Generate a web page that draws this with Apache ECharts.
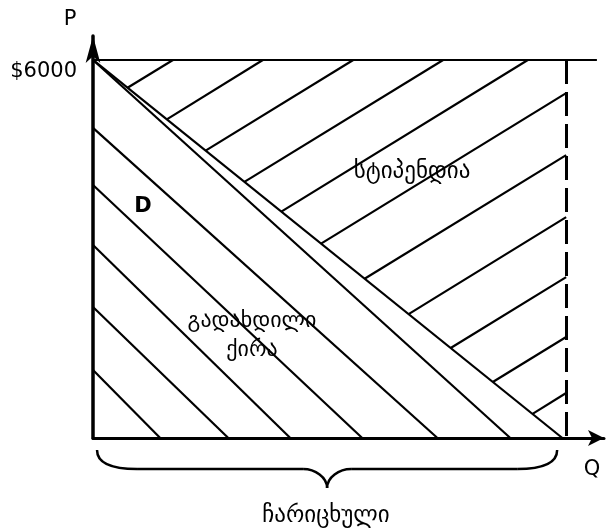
<!DOCTYPE html>
<html>
<head>
<meta charset="utf-8">
<script src="https://cdn.jsdelivr.net/npm/echarts@6/dist/echarts.min.js"></script>
<style>
  html, body { margin: 0; padding: 0; background: #fff; }
  #main { width: 614px; height: 528px; }
</style>
</head>
<body>
<div id="main"></div>
<script>
// Q in arbitrary units (capacity = 100), P in dollars
var topPrice = 6000;
var capacityQ = 100;
var topLineEndQ = 106.5;
var demandLine = [[0, 6000], [99.2, 0]];
var innerLine = [[0, 6000], [88.2, 0]];

// hatching under demand (paid rent): start P on the P axis, end Q on the Q axis
var rentStartP = [1079, 2079, 3063, 4016, 4921];
var rentEndQ = [14.2, 28.6, 41.7, 56.9, 72.8];

// hatching above demand (stipend)
var stipendFromTop = [[16.9, 6000, 7.3, 5558], [35.9, 6000, 15.6, 5057], [55.0, 6000, 23.8, 4561],
                      [74.0, 6000, 32.0, 4065], [91.9, 6000, 39.8, 3593]];
var stipendFromCap = [[100, 5473, 48.2, 3085], [100, 4490, 57.4, 2528], [100, 3506, 66.7, 1966],
                      [100, 2554, 75.6, 1428], [100, 1602, 84.5, 889], [100, 714, 92.9, 382]];

var braceSpanQ = [0.85, 98.1];

var chart = echarts.init(document.getElementById('main'));

function seg(a, b) { return { coords: [a, b] }; }

var thinLines = [];
thinLines.push(seg(demandLine[0], demandLine[1]));
thinLines.push(seg(innerLine[0], innerLine[1]));
thinLines.push(seg([0, topPrice], [topLineEndQ, topPrice]));
rentStartP.forEach(function (p, i) { thinLines.push(seg([0, p], [rentEndQ[i], 0])); });
stipendFromTop.concat(stipendFromCap).forEach(function (s) {
    thinLines.push(seg([s[0], s[1]], [s[2], s[3]]));
});

var font = 'DejaVu Sans';

chart.setOption({
    animation: false,
    grid: { left: 93, right: 10, top: 36, bottom: 90 },
    xAxis: {
        type: 'value', min: 0, max: 108,
        axisLine: { show: true, symbol: ['none', 'arrow'], symbolSize: [12, 16],
                    lineStyle: { color: '#000', width: 3 } },
        axisTick: { show: false }, axisLabel: { show: false }, splitLine: { show: false }
    },
    yAxis: {
        type: 'value', min: 0, max: 6380,
        axisLine: { show: true, symbol: ['none', 'arrow'], symbolSize: [11, 27],
                    lineStyle: { color: '#000', width: 3.5 } },
        axisTick: { show: false }, axisLabel: { show: false }, splitLine: { show: false }
    },
    series: [
        {
            type: 'lines', coordinateSystem: 'cartesian2d', silent: true,
            lineStyle: { color: '#000', width: 2.2, opacity: 1 },
            data: thinLines
        },
        {
            type: 'lines', coordinateSystem: 'cartesian2d', silent: true,
            lineStyle: { color: '#000', width: 3, opacity: 1, type: [24, 8] },
            data: [seg([capacityQ, topPrice], [capacityQ, 0])]
        }
    ]
});

// labels + brace
var b0 = chart.convertToPixel({ gridIndex: 0 }, [braceSpanQ[0], 0]);
var b1 = chart.convertToPixel({ gridIndex: 0 }, [braceSpanQ[1], 0]);
var x0 = b0[0], x1 = b1[0], xm = (x0 + x1) / 2;
var yTop = b0[1] + 12, yMid = yTop + 19, yTip = yTop + 38;
var braceStyle = { fill: null, stroke: '#000', lineWidth: 2.5 };

function curve(ax, ay, c1x, c1y, c2x, c2y, bx, by) {
    return { type: 'bezierCurve', silent: true, style: braceStyle,
             shape: { x1: ax, y1: ay, cpx1: c1x, cpy1: c1y, cpx2: c2x, cpy2: c2y, x2: bx, y2: by } };
}
function straight(ax, ay, bx, by) {
    return { type: 'line', silent: true, style: braceStyle,
             shape: { x1: ax, y1: ay, x2: bx, y2: by } };
}

function txt(text, x, y, size, align, weight) {
    return {
        type: 'text', x: x, y: y, silent: true,
        style: { text: text, fill: '#000', fontFamily: font, fontSize: size,
                 fontWeight: weight || 'normal',
                 textAlign: align || 'center', textVerticalAlign: 'middle' }
    };
}

chart.setOption({
    graphic: [
        curve(x0, yTop, x0, yTop + 13, x0 + 14, yMid, x0 + 40, yMid),
        straight(x0 + 40, yMid, xm - 24, yMid),
        curve(xm - 24, yMid, xm - 12, yMid, xm, yMid + 8, xm, yTip),
        curve(xm, yTip, xm, yMid + 8, xm + 12, yMid, xm + 24, yMid),
        straight(xm + 24, yMid, x1 - 40, yMid),
        curve(x1 - 40, yMid, x1 - 14, yMid, x1, yTop + 13, x1, yTop),
        txt('P', 70, 20, 21),
        txt('$6000', 77, 72, 21, 'right'),
        txt('Q', 592, 470, 21),
        txt('D', 143, 207, 21, 'center', 'bold'),
        txt('სტიპენდია', 412, 172, 23),
        txt('გადახდილი', 252, 321, 22),
        txt('ქირა', 252, 350, 22),
        txt('ჩარიცხული', 326, 516, 23)
    ]
});
</script>
</body>
</html>
